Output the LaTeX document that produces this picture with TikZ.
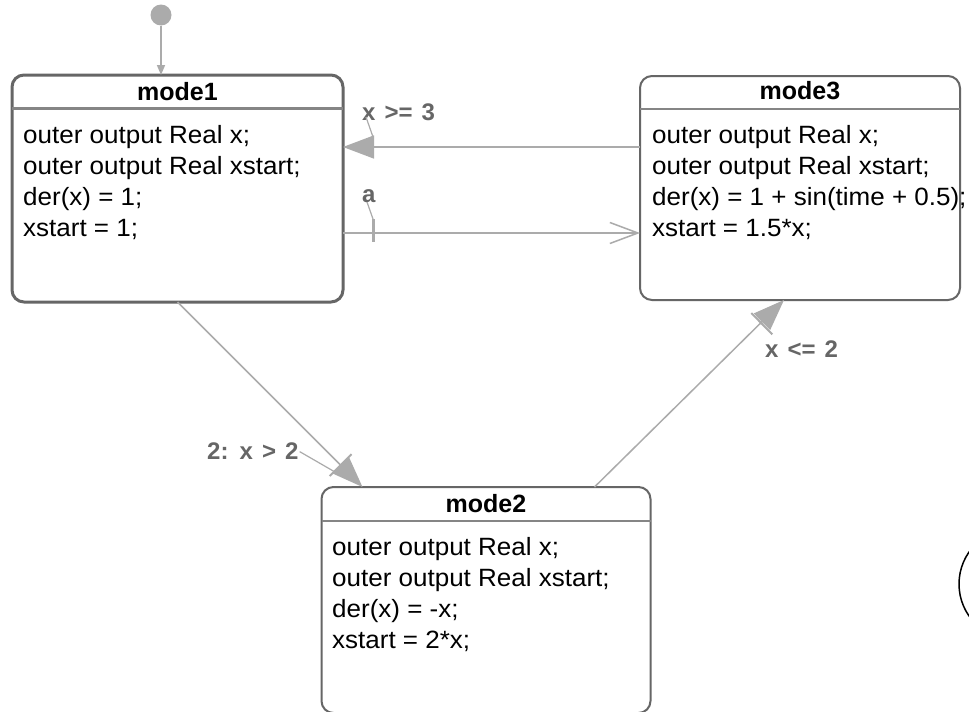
\documentclass[tikz,border=0pt]{standalone}
\usepackage{fontspec}
\setmainfont{Liberation Sans}
\newfontfamily\bodyfont[FakeStretch=1.04]{Liberation Sans}
\newcommand\lblfont{\fontsize{24}{28}\selectfont\bfseries\spaceskip 9pt\relax}
\usetikzlibrary{arrows.meta,calc}
\definecolor{boxc}{HTML}{666666}
\definecolor{hdrc}{HTML}{858585}
\definecolor{trc}{HTML}{ABABAB}
\definecolor{lblc}{HTML}{666666}
\begin{document}
\begin{tikzpicture}[x=1pt,y=-1pt,
  modebox/.style={draw=boxc, line width=2pt, rounded corners=12pt, rectangle, inner sep=0pt, outer sep=0pt, anchor=north west},
  hdrline/.style={draw=hdrc, line width=2pt},
  titletext/.style={font=\fontsize{25}{31}\selectfont\bfseries, anchor=base, inner sep=0pt},
  bodytext/.style={font=\bodyfont\fontsize{25}{31}\selectfont, anchor=base west, inner sep=0pt},
  tr/.style={draw=trc, line width=1.5pt},
  leader/.style={draw=trc, line width=1.2pt},
  lbl/.style={font=\lblfont, text=lblc, anchor=base west, inner sep=0pt},
  bigtip/.style={-{Triangle[length=31pt,width=23pt]}}
]
\useasboundingbox (0,0) rectangle (969,712);
\clip (0,0) rectangle (969,712);
\fill[white] (0,0) rectangle (969,712);

% states
\node[modebox, line width=3pt, minimum width=331pt, minimum height=227pt] (m1) at (12,75) {};
\node[modebox, minimum width=320pt, minimum height=224pt] (m3) at (640,76) {};
\node[modebox, minimum width=329pt, minimum height=226pt] (m2) at (321.5,487) {};

% header lines
\draw[hdrline, line width=3pt] (m1.west |- 0,108) -- (m1.east |- 0,108);
\draw[hdrline] (m3.west |- 0,109) -- (m3.east |- 0,109);
\draw[hdrline] (m2.west |- 0,521) -- (m2.east |- 0,521);

% titles
\node[titletext] (t1) at (177.5,100) {mode1};
\node[titletext] (t3) at (800,99) {mode3};
\node[titletext] (t2) at (486,512) {mode2};

% bodies
\node[bodytext] (b11) at (23,143) {outer output Real x;};
\node[bodytext] (b12) at (23,174) {outer output Real xstart;};
\node[bodytext] (b13) at (23,205) {der(x) = 1;};
\node[bodytext] (b14) at (23,236) {xstart = 1;};

\node[bodytext] (b31) at (652,143) {outer output Real x;};
\node[bodytext] (b32) at (652,174) {outer output Real xstart;};
\node[bodytext] (b33) at (652,205) {der(x) = 1 + sin(time + 0.5);};
\node[bodytext] (b34) at (652,236) {xstart = 1.5*x;};

\node[bodytext] (b21) at (332,555) {outer output Real x;};
\node[bodytext] (b22) at (332,586) {outer output Real xstart;};
\node[bodytext] (b23) at (332,617) {der(x) = -x;};
\node[bodytext] (b24) at (332,648) {xstart = 2*x;};

% initial state
\node[circle, fill=trc, minimum size=21pt, inner sep=0pt] (init) at (161,15) {};
\draw[tr, -{Triangle[length=10pt,width=8pt]}] (init.south) -- (init.south |- m1.north);

% mode3 -> mode1
\coordinate (ya) at (0,147);
\draw[tr, bigtip] (m3.west |- ya) -- (m1.east |- ya);
\node[lbl] (l1) at (362,120) {x >= 3};
\coordinate (l1end) at (373,137);
\draw[leader] ([xshift=4pt,yshift=3pt]l1.base west) -- (l1end);

% mode1 -> mode3
\coordinate (yb) at (0,233);
\draw[tr, -{Straight Barb[length=28pt,width=21pt]}] (m1.east |- yb) -- (m3.west |- yb);
\coordinate (tk1) at (373,219);
\coordinate (tk2) at (373,242);
\draw[draw=trc, line width=3pt] (tk1) -- (tk2);
\node[lbl] (l2) at (362,202) {a};
\draw[leader] ([xshift=5pt]l2.base west) -- (tk1);

% mode1 -> mode2
\draw[tr, bigtip] (m1.south) -- ([xshift=41pt]m2.north west);
\draw[draw=trc, line width=2pt] (351.5,454.2) -- (329.7,476.0);
\node[lbl] (l3) at (207,459) {2: x > 2};
\coordinate (l3end) at (335,472);
\draw[leader] ([xshift=1pt,yshift=-1pt]l3.east) -- (l3end);

% mode2 -> mode3
\draw[tr, bigtip] ([xshift=273pt]m2.north west) -- ([xshift=144pt]m3.south west);
\draw[draw=trc, line width=2pt] (772.3,334.4) -- (751.3,313.0);
\node[lbl] (l4) at (765,357) {x <= 2};

% partial circle at right edge
\draw[black, line width=1.5pt] (1015,584) circle[radius=56];
\end{tikzpicture}
\end{document}
